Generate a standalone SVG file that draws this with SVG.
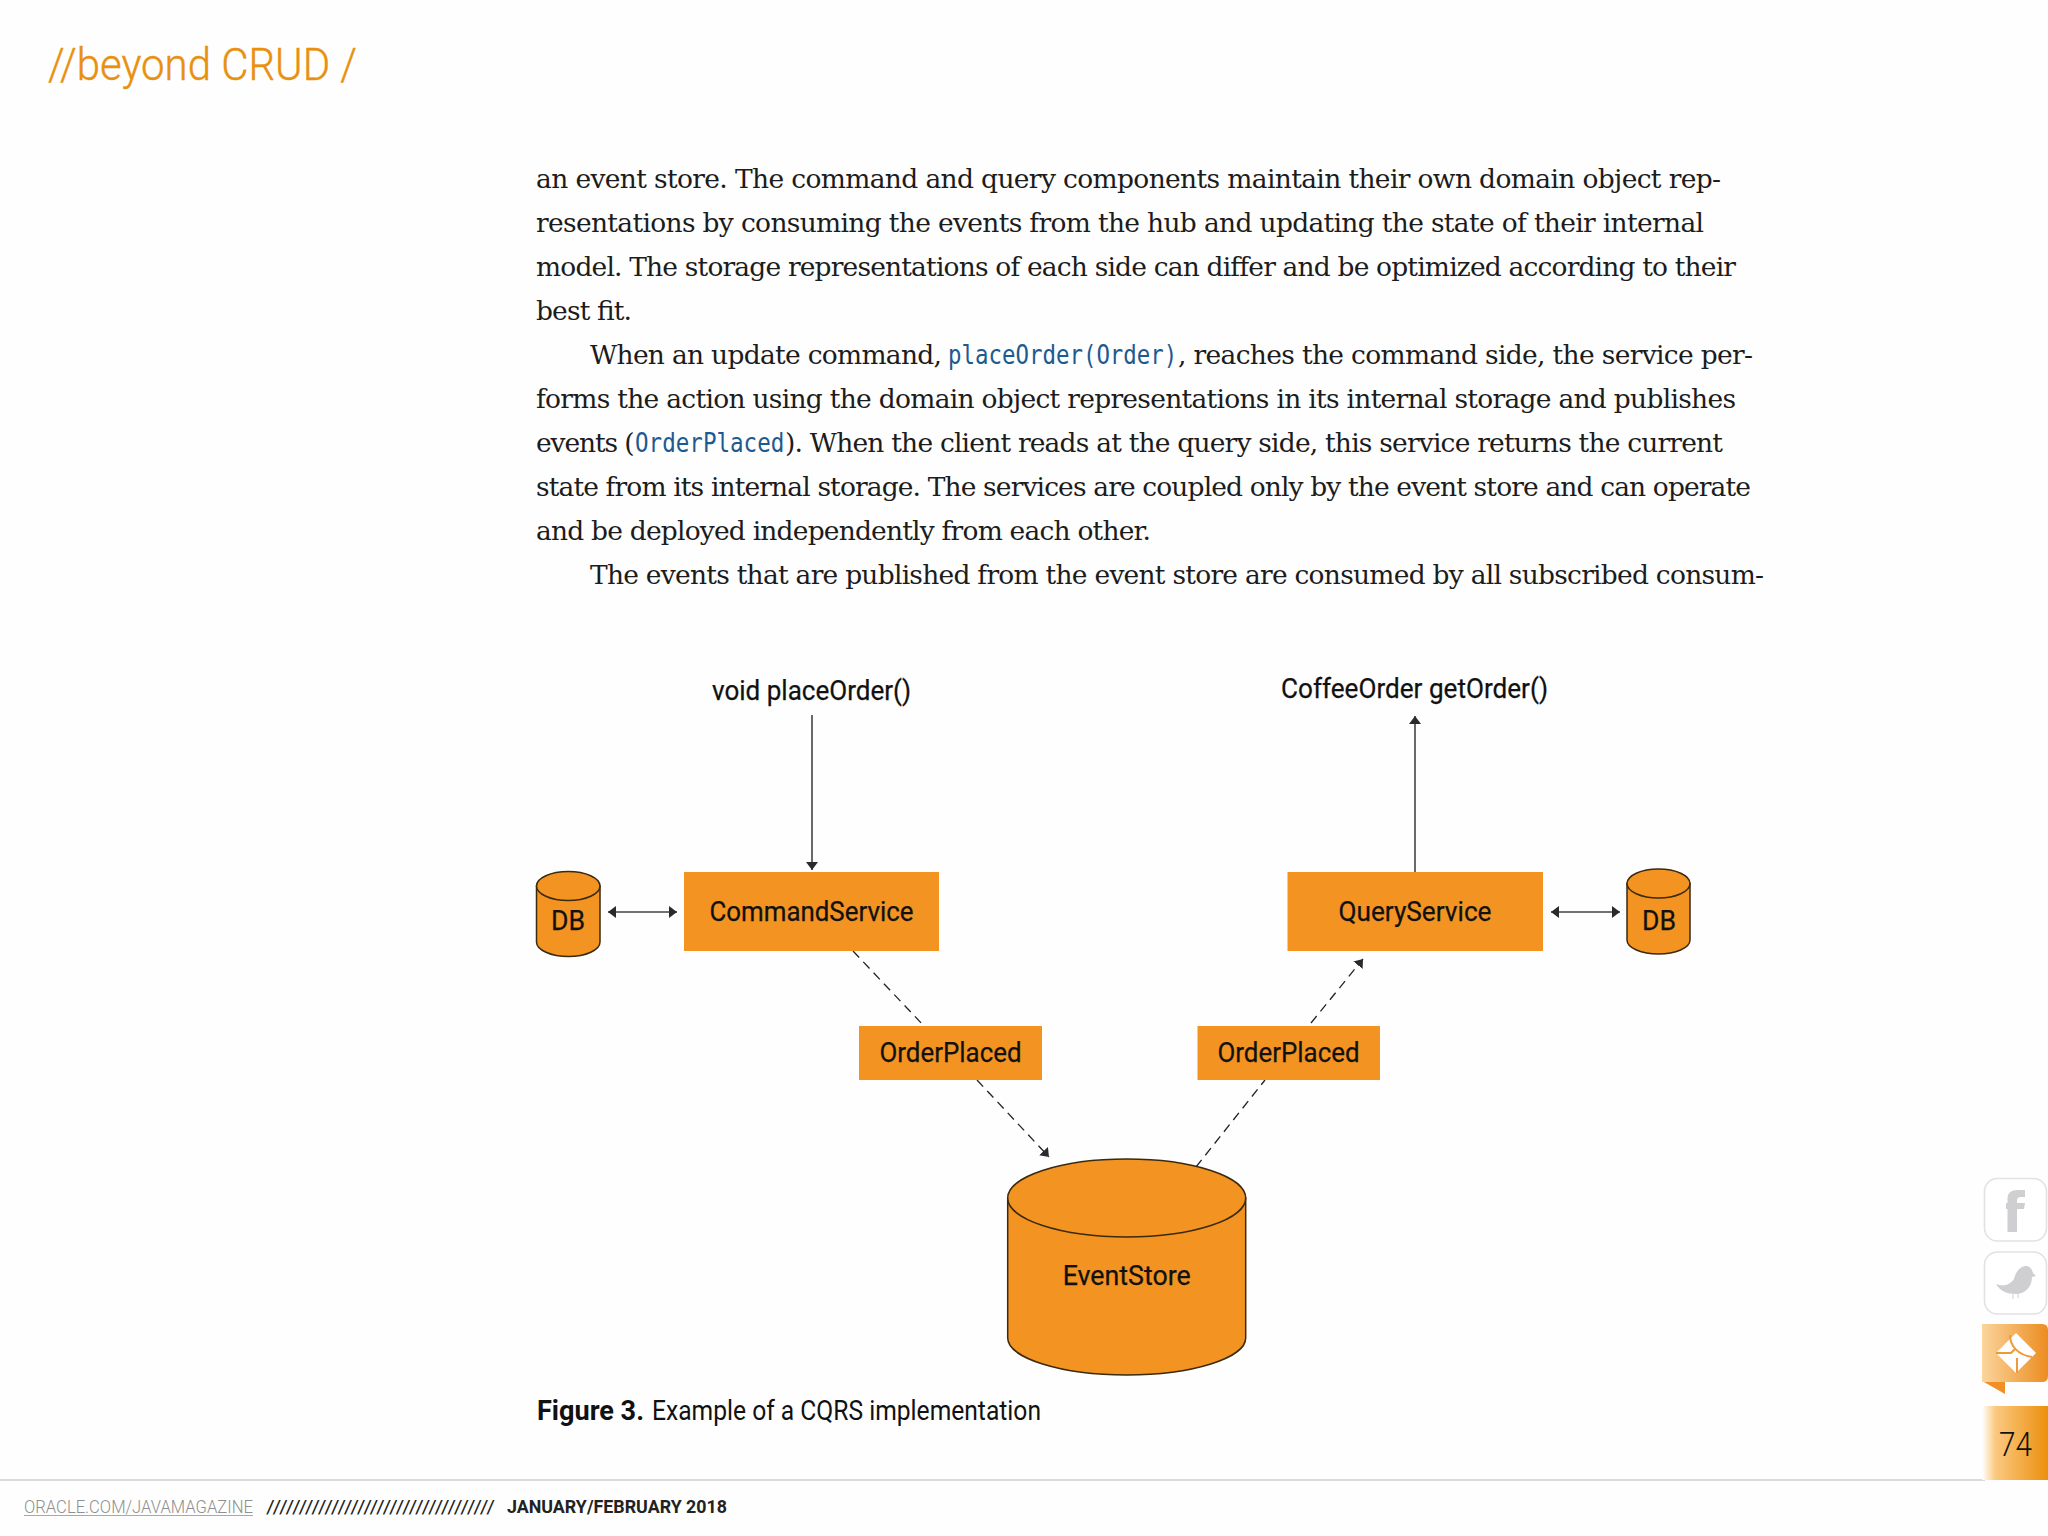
<svg xmlns="http://www.w3.org/2000/svg" width="2048" height="1536" viewBox="0 0 2048 1536">
<style>
.b{font-family:"DejaVu Serif","Liberation Serif",serif;font-size:26.5px;fill:#1c1c1c}
.c{font-family:"DejaVu Sans Mono","Liberation Mono",monospace;font-size:26px;fill:#1d5a90}
.l{font-family:Roboto,"Liberation Sans",sans-serif;font-size:28px;fill:#111;font-weight:400;stroke:#111;stroke-width:.25}
.m{text-anchor:middle}
.box{fill:#f39321}
.cyl{fill:#f39321;stroke:#3a2a10;stroke-width:1.5}
.s{fill:none;stroke:#444;stroke-width:1.6}
.d{fill:none;stroke:#222;stroke-width:1.3;stroke-dasharray:9 6}
.ic{fill:#fff;stroke:#e2e2e4;stroke-width:1.6}
.g{fill:#cfcfd1}
</style>
<defs>
<marker id="a" viewBox="0 0 8 12" refX="8" refY="6" markerWidth="8" markerHeight="12" markerUnits="userSpaceOnUse" orient="auto-start-reverse"><path d="M0 0L8 6L0 12Z" fill="#2a2a2e"/></marker>
<linearGradient id="t1" x1="0" x2="1" y1="0" y2="0"><stop offset="0" stop-color="#fbd59c"/><stop offset="1" stop-color="#ec8c20"/></linearGradient>
<linearGradient id="t2" x1="0" x2="1" y1="0" y2="0"><stop offset="0" stop-color="#fff"/><stop offset=".2" stop-color="#fbc981"/><stop offset="1" stop-color="#ec8f0c"/></linearGradient>
</defs>
<rect width="2048" height="1536" fill="#fefefe"/>
<g id="header"><text x="48" y="80" textLength="309" lengthAdjust="spacingAndGlyphs" style="font-family:Roboto,'Liberation Sans',sans-serif;font-size:45px;font-weight:300;fill:#e8900f;stroke:#e8900f;stroke-width:.4">//beyond CRUD /</text></g>
<g id="body">
<text class="b" x="536" y="188" textLength="1185">an event store. The command and query components maintain their own domain object rep-</text>
<text class="b" x="536" y="232" textLength="1168">resentations by consuming the events from the hub and updating the state of their internal</text>
<text class="b" x="536" y="276" textLength="1200">model. The storage representations of each side can differ and be optimized according to their</text>
<text class="b" x="536" y="320" textLength="96">best fit.</text>
<text class="b" x="590" y="364" textLength="352">When an update command,</text>
<text class="c" transform="translate(948 364) scale(.862 1)">placeOrder(Order)</text>
<text class="b" x="1178" y="364" textLength="575">, reaches the command side, the service per-</text>
<text class="b" x="536" y="408" textLength="1200">forms the action using the domain object representations in its internal storage and publishes</text>
<text class="b" x="536" y="452" textLength="98.500">events (</text>
<text class="c" transform="translate(635 452) scale(.868 1)">OrderPlaced</text>
<text class="b" x="785" y="452" textLength="938">). When the client reads at the query side, this service returns the current</text>
<text class="b" x="536" y="496" textLength="1215">state from its internal storage. The services are coupled only by the event store and can operate</text>
<text class="b" x="536" y="540" textLength="615">and be deployed independently from each other.</text>
<text class="b" x="590" y="584" textLength="1174">The events that are published from the event store are consumed by all subscribed consum-</text>
</g>
<g id="connectors">
<line class="s" x1="812" y1="715" x2="812" y2="870" marker-end="url(#a)"/>
<line class="s" x1="1415" y1="872" x2="1415" y2="716" marker-end="url(#a)"/>
<line class="s" x1="608" y1="912" x2="677" y2="912" marker-start="url(#a)" marker-end="url(#a)"/>
<line class="s" x1="1551" y1="912" x2="1620" y2="912" marker-start="url(#a)" marker-end="url(#a)"/>
<line class="d" x1="853" y1="951" x2="924" y2="1026"/>
<line class="d" x1="977" y1="1080" x2="1049" y2="1157" marker-end="url(#a)"/>
<line class="d" x1="1196" y1="1167" x2="1265" y2="1080"/>
<line class="d" x1="1311" y1="1023" x2="1363" y2="959" marker-end="url(#a)"/>
</g>
<text class="l m" id="call-place" x="811.5" y="700" textLength="199" lengthAdjust="spacingAndGlyphs">void placeOrder()</text>
<text class="l m" id="call-get" x="1414.5" y="698" textLength="267" lengthAdjust="spacingAndGlyphs">CoffeeOrder getOrder()</text>
<g id="db-left">
<path class="cyl" d="M536.500 886V942C536.500 950 551 956.500 568.500 956.500S600 950 600 942V886Z"/>
<ellipse class="cyl" cx="568.250" cy="886" rx="31.750" ry="14.500"/>
<text class="l m" x="568" y="930" textLength="34" lengthAdjust="spacingAndGlyphs">DB</text>
</g>
<g id="command-service">
<rect class="box" x="684" y="872" width="255" height="79"/>
<text class="l m" x="811.500" y="921" textLength="204" lengthAdjust="spacingAndGlyphs">CommandService</text>
</g>
<g id="query-service">
<rect class="box" x="1287.500" y="872" width="255.500" height="79"/>
<text class="l m" x="1415" y="921" textLength="153" lengthAdjust="spacingAndGlyphs">QueryService</text>
</g>
<g id="db-right">
<path class="cyl" d="M1627 883.500V940C1627 948 1641.500 954 1658.500 954S1690 948 1690 940V883.500Z"/>
<ellipse class="cyl" cx="1658.500" cy="883.500" rx="31.500" ry="14.500"/>
<text class="l m" x="1659" y="930" textLength="34" lengthAdjust="spacingAndGlyphs">DB</text>
</g>
<g id="order-placed-left">
<rect class="box" x="859" y="1026" width="183" height="54"/>
<text class="l m" x="950.500" y="1062" textLength="142" lengthAdjust="spacingAndGlyphs">OrderPlaced</text>
</g>
<g id="order-placed-right">
<rect class="box" x="1197.500" y="1026" width="182.500" height="54"/>
<text class="l m" x="1288.500" y="1062" textLength="142" lengthAdjust="spacingAndGlyphs">OrderPlaced</text>
</g>
<g id="event-store">
<path class="cyl" d="M1007.700 1198V1338C1007.700 1358 1061 1375 1126.700 1375S1245.700 1358 1245.700 1338V1198Z"/>
<ellipse class="cyl" cx="1126.700" cy="1198" rx="119" ry="39"/>
<text class="l m" x="1126.700" y="1285" textLength="128" lengthAdjust="spacingAndGlyphs">EventStore</text>
</g>
<g id="caption">
<text x="537" y="1420" textLength="107" lengthAdjust="spacingAndGlyphs" style="font-family:Roboto,'Liberation Sans',sans-serif;font-size:28px;font-weight:700;fill:#111">Figure 3.</text>
<text x="652" y="1420" textLength="389" lengthAdjust="spacingAndGlyphs" style="font-family:Roboto,'Liberation Sans',sans-serif;font-size:27px;font-weight:400;fill:#111">Example of a CQRS implementation</text>
</g>
<g id="footer">
<rect x="0" y="1479" width="1985" height="2" fill="#dadadc"/>
<text x="24" y="1513" textLength="229" lengthAdjust="spacingAndGlyphs" style="font-family:Roboto,'Liberation Sans',sans-serif;font-size:18px;font-weight:300;fill:#8f8f8f">ORACLE.COM/JAVAMAGAZINE</text>
<rect x="24" y="1515" width="229" height="1" fill="#a8a8a8"/>
<text x="266" y="1513" textLength="229" lengthAdjust="spacingAndGlyphs" style="font-family:Roboto,'Liberation Sans',sans-serif;font-size:18px;font-weight:400;fill:#222">///////////////////////////////////</text>
<text x="507" y="1513" textLength="220" lengthAdjust="spacingAndGlyphs" style="font-family:Roboto,'Liberation Sans',sans-serif;font-size:18px;font-weight:700;fill:#222">JANUARY/FEBRUARY 2018</text>
</g>
<g id="icon-facebook">
<rect class="ic" x="1984.500" y="1178.500" width="62" height="62.500" rx="13"/>
<path class="g" d="M2007.500 1232V1209H2006V1203H2007.500V1199C2007.500 1193 2011 1190 2018 1190H2025V1197H2021C2018.500 1197 2017 1198 2017 1200.500V1203H2025L2024 1209H2017V1232Z"/>
</g>
<g id="icon-twitter">
<rect class="ic" x="1984.500" y="1252" width="62" height="62" rx="13"/>
<path class="g" d="M1996 1284C2003 1287 2010 1285 2014 1279C2016 1271 2021 1265 2027 1266C2030 1267 2032 1269 2033 1273L2036 1276L2032 1277C2032 1287 2025 1294 2016 1294C2007 1294 2000 1291 1996 1284Z"/>
<path d="M2013 1294V1299M2018 1294V1298" stroke="#cfcfd1" stroke-width="1" fill="none"/>
</g>
<g id="icon-mail">
<path d="M1984 1382L2005 1382L2005 1394Z" fill="#ef8f25"/>
<path d="M1982 1324H2042Q2048 1324 2048 1330V1376Q2048 1382 2042 1382H1982Z" fill="url(#t1)"/>
<path d="M2016 1333L2036 1353L2016 1373L1996 1353Z" fill="#fff"/>
<path d="M2010 1335C2010 1346 2018 1355 2032 1357M1996 1353H2011L2015 1349M2017 1358V1373" stroke="#ef9a3a" stroke-width="2" fill="none"/>
</g>
<g id="page-tab">
<rect x="1982" y="1406" width="66" height="74" fill="url(#t2)"/>
<text x="1999" y="1456" textLength="33" lengthAdjust="spacingAndGlyphs" style="font-family:Roboto,'Liberation Sans',sans-serif;font-size:33px;font-weight:300;fill:#111">74</text>
</g>
</svg>
